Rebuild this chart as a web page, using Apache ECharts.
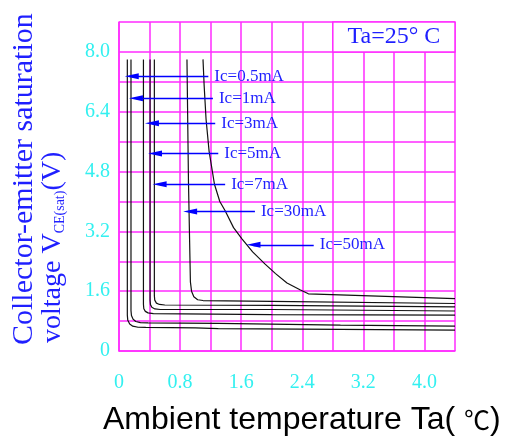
<!DOCTYPE html>
<html>
<head>
<meta charset="utf-8">
<script src="https://cdn.jsdelivr.net/npm/echarts@6/dist/echarts.min.js"></script>
<style>
html,body{margin:0;padding:0;background:#fff;}
#Chart{width:516px;height:437px;}
</style>
</head>
<body>
<div id="Chart"></div>
<script>
// tick labels
var xTickLabels=['0','0.8','1.6','2.4','3.2','4.0']
var yTickLabels=['0','1.6','3.2','4.8','6.4','8.0']

// curves [Ta, Vce(sat)]
var curveNames=['Ic=0.5mA','Ic=1mA','Ic=3mA','Ic=5mA','Ic=7mA','Ic=30mA','Ic=50mA']
var ic05=[[0.109,7.8],[0.109,0.96],[0.115,0.82],[0.14,0.72],[0.18,0.665],[0.25,0.635],[0.35,0.63],[1.0,0.62],[1.3,0.60],[2.9,0.58],[4.4,0.56]]
var ic1=[[0.157,7.8],[0.157,1.08],[0.163,0.95],[0.185,0.85],[0.22,0.79],[0.28,0.76],[0.38,0.75],[1.3,0.74],[2.9,0.69],[4.4,0.665]]
var ic3=[[0.32,7.8],[0.32,1.25],[0.325,1.13],[0.345,1.06],[0.38,1.02],[0.45,1.0],[2.0,0.975],[4.4,0.96]]
var ic5=[[0.407,7.8],[0.407,1.36],[0.412,1.24],[0.43,1.17],[0.47,1.125],[0.54,1.11],[2.0,1.11],[4.4,1.07]]
var ic7=[[0.463,7.8],[0.463,1.48],[0.468,1.36],[0.49,1.28],[0.53,1.245],[0.6,1.23],[2.0,1.22],[4.4,1.18]]
var ic30=[[0.89,7.8],[0.91,4.5],[0.935,1.85],[0.95,1.6],[0.98,1.45],[1.03,1.37],[1.1,1.35],[2.0,1.33],[4.4,1.27]]
var ic50=[[1.10,7.8],[1.115,7.1],[1.14,6.2],[1.18,5.34],[1.25,4.46],[1.32,4.0],[1.39,3.75],[1.50,3.30],[1.61,3.00],[1.75,2.65],[1.91,2.33],[2.05,2.07],[2.20,1.82],[2.37,1.64],[2.48,1.53],[4.4,1.40]]
var curves=[ic05,ic1,ic3,ic5,ic7,ic30,ic50]

// arrows pointing at each curve
var arrowY=[7.35,6.76,6.09,5.28,4.46,3.73,2.84]
var arrowTip=[0.075,0.13,0.34,0.38,0.44,0.84,1.67]
var arrowTail=[1.17,1.23,1.26,1.30,1.39,1.78,2.55]

var gridColor='#ff2bff'
var tickColor='#33f0f0'
var blue='#1f1fff'
var serif='Liberation Serif, serif'
var headLen=14   //箭头长度 px
var pxPerX=336/4.4

function $each(arr,fn){
	for(var i=0;i<arr.length;i++) fn(i,arr[i])
}

function buildSeries(){
	var series=[]
	$each(curves,function(i,item){
		// 三角形以端点为中心, 往右挪半个箭头让尖端落在读数处
		var tip=arrowTip[i]+headLen/2/pxPerX
		var s={
			name:curveNames[i],
			type:'line',
			data:item,
			showSymbol:false,
			symbol:'none',
			silent:true,
			animation:false,
			lineStyle:{color:'#111',width:1.2},
			markLine:{
				silent:true,
				animation:false,
				lineStyle:{color:'#0000ff',width:1.3,type:'solid'},
				label:{
					show:true,
					position:'end',
					distance:6,
					formatter:curveNames[i],
					color:blue,
					fontSize:17,
					fontFamily:serif
				},
				data:[[
					{coord:[tip,arrowY[i]],symbol:'triangle',symbolSize:[6,headLen]},
					{coord:[arrowTail[i],arrowY[i]],symbol:'none'}
				]]
			}
		}
		series.push(s)
	})
	// Ta box
	series[0].markArea={
		silent:true,
		itemStyle:{color:'#fff',borderColor:gridColor,borderWidth:1.5},
		label:{show:true,position:'inside',formatter:'Ta=25° C',color:blue,fontSize:24,fontFamily:serif},
		data:[[{coord:[2.8,8.0]},{coord:[4.4,8.8]}]]
	}
	return series
}

function drawChar(){
	var myChart=echarts.init(document.getElementById('Chart'),null,{renderer:'canvas'})
	var option={
		backgroundColor:'#fff',
		animation:false,
		grid:{left:119,top:22,right:61,bottom:86,show:false},
		xAxis:{
			type:'value',
			min:0,
			max:4.4,
			interval:0.4,
			axisLine:{show:true,lineStyle:{color:gridColor,width:1.5}},
			axisTick:{show:false},
			splitLine:{show:true,lineStyle:{color:gridColor,width:1.5}},
			axisLabel:{
				margin:22,
				color:tickColor,
				fontSize:20,
				fontFamily:serif,
				formatter:function(v){
					var k=Math.round(v*10)
					return k%8===0?xTickLabels[k/8]:''
				}
			}
		},
		yAxis:{
			type:'value',
			min:0,
			max:8.8,
			interval:0.8,
			axisLine:{show:true,lineStyle:{color:gridColor,width:1.5}},
			axisTick:{show:false},
			splitLine:{show:true,lineStyle:{color:gridColor,width:1.5}},
			axisLabel:{
				margin:9,
				color:tickColor,
				fontSize:20,
				fontFamily:serif,
				formatter:function(v){
					var k=Math.round(v*10)
					return k%16===0?yTickLabels[k/16]:''
				}
			}
		},
		graphic:[
			{
				type:'text',
				x:24,y:345,
				rotation:Math.PI/2,
				style:{text:'Collector-emitter saturation',fill:blue,fontSize:30,fontFamily:serif,align:'left',verticalAlign:'middle'}
			},
			{
				type:'text',
				x:53,y:343,
				rotation:Math.PI/2,
				style:{
					text:'{a|voltage V}{s|CE(sat)}{a|(V)}',
					align:'left',
					verticalAlign:'middle',
					rich:{
						a:{fill:blue,fontSize:28,fontFamily:serif},
						s:{fill:blue,fontSize:14,fontFamily:serif,verticalAlign:'bottom'}
					}
				}
			},
			{
				type:'text',
				x:103,y:420,
				style:{
					text:'{a|Ambient temperature Ta( }{b|℃}{a|)}',
					align:'left',
					verticalAlign:'middle',
					rich:{
						a:{fill:'#000',fontSize:32,fontFamily:'Liberation Sans, Arial, sans-serif'},
						b:{fill:'#000',fontSize:26,fontFamily:'Noto Sans CJK SC, sans-serif'}
					}
				}
			}
		],
		series:buildSeries()
	}
	myChart.setOption(option)
}

drawChar()
</script>
</body>
</html>
